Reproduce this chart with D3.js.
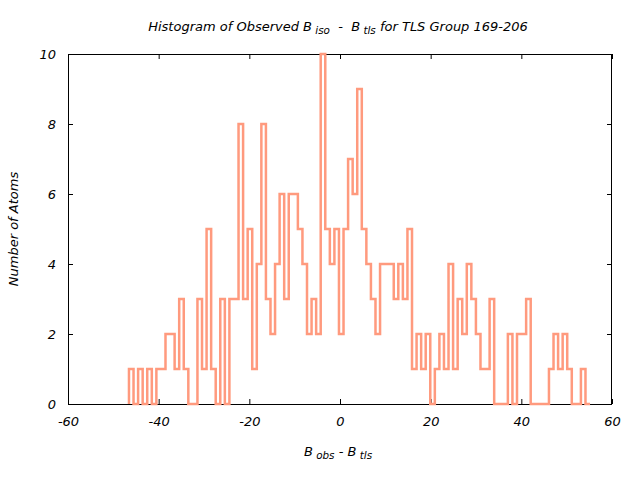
<!DOCTYPE html>
<html><head><meta charset="utf-8">
<script src="https://cdn.jsdelivr.net/npm/d3@7/dist/d3.min.js"></script>
<style>
body{margin:0;background:#fff}
svg{display:block}
text{font-family:"DejaVu Sans",sans-serif;font-style:italic;fill:#000}
</style>
</head><body>
<svg id="chart" width="640" height="480"></svg>
<script>
// ---- data ----
const binStart = -46.55;      // left edge of the first bin (B_obs - B_tls)
const binWidth = 1.007;       // bin width
const counts = [
  1,0,1,0,1,0,1,1,2,2,
  1,3,1,0,0,3,1,5,1,0,
  3,0,3,3,8,3,5,1,4,8,
  3,2,4,6,3,6,6,5,4,2,
  3,2,10,5,4,5,2,5,7,6,
  9,5,4,3,2,4,4,4,3,4,
  3,5,1,2,1,2,0,1,2,1,
  4,1,3,2,4,3,2,1,1,3,
  0,0,0,2,0,2,2,3,0,0,
  0,0,1,2,1,2,1,0,0,1,
  0
];
const xTicks = [-60,-40,-20,0,20,40,60];
const yTicks = [0,2,4,6,8,10];
const xDomain = [-60,60];
const yDomain = [0,10];
const titleParts = [["Histogram of Observed B",0],["iso",1],["  -  B",0],["tls",1],[" for TLS Group 169-206",0]];
const xLabelParts = [["B",0],["obs",1],[" - B",0],["tls",1]];
const yLabel = "Number of Atoms";

// ---- layout ----
const svg = d3.select("#chart");
const L=68, R=612, T=54, B=404;
const x = d3.scaleLinear().domain(xDomain).range([L,R]);
const y = d3.scaleLinear().domain(yDomain).range([B,T]);
const fs = 13, tick = 5;

// axes (inward ticks, mirrored)
const gx = svg.append("g").attr("transform",`translate(0,${B})`)
  .call(d3.axisBottom(x).tickValues(xTicks).tickSize(-tick).tickPadding(13).tickFormat(d3.format("d")));
const gxt = svg.append("g").attr("transform",`translate(0,${T})`)
  .call(d3.axisTop(x).tickValues(xTicks).tickSize(-tick).tickFormat(""));
const gy = svg.append("g").attr("transform",`translate(${L},0)`)
  .call(d3.axisLeft(y).tickValues(yTicks).tickSize(-tick).tickPadding(12).tickFormat(d3.format("d")));
const gyr = svg.append("g").attr("transform",`translate(${R},0)`)
  .call(d3.axisRight(y).tickValues(yTicks).tickSize(-tick).tickFormat(""));
[gx,gxt,gy,gyr].forEach(g=>{
  g.select(".domain").remove();
  g.selectAll("line").attr("stroke","#000").attr("stroke-width",1);
  g.selectAll("text").attr("font-size",fs).attr("font-family",null).style("font-style","italic");
});
gx.selectAll("text").text(d=>d3.format("d")(d).replace("−","-"));
gy.selectAll("text").attr("dy","0.35em");

// border
svg.append("rect").attr("x",L+0.5).attr("y",T+0.5).attr("width",R-L-1).attr("height",B-T)
  .attr("fill","none").attr("stroke","#000").attr("stroke-width",1);

// histogram steps
const pts = [[binStart,0]];
counts.forEach((c,i)=>pts.push([binStart+i*binWidth,c]));
pts.push([binStart+counts.length*binWidth,counts[counts.length-1]]);
pts.push([binStart+counts.length*binWidth,0]);
const line = d3.line().x(d=>x(d[0])).y(d=>y(d[1])).curve(d3.curveStepAfter);
svg.append("path").datum(pts).attr("d",line)
  .attr("fill","none").attr("stroke","#ff9a7e").attr("stroke-width",2.5)
  .attr("stroke-linejoin","miter").attr("stroke-linecap","butt");

// texts with subscripts
function rich(g, parts){
  const t = g.append("text").attr("font-size",fs).attr("text-anchor","middle").style("white-space","pre");
  let sub=false;
  parts.forEach(([s,isSub])=>{
    const ts = t.append("tspan").text(isSub? " "+s : s);
    if(isSub && !sub){ ts.attr("dy",3).attr("font-size",fs*0.8); sub=true; }
    else if(!isSub && sub){ ts.attr("dy",-3); sub=false; }
  });
  return t;
}
rich(svg.append("g").attr("transform","translate(338,31)"), titleParts);
rich(svg.append("g").attr("transform","translate(338,456)"), xLabelParts);
svg.append("text").attr("transform","translate(18,229) rotate(-90)")
  .attr("text-anchor","middle").attr("font-size",fs).text(yLabel);
</script>
</body></html>
